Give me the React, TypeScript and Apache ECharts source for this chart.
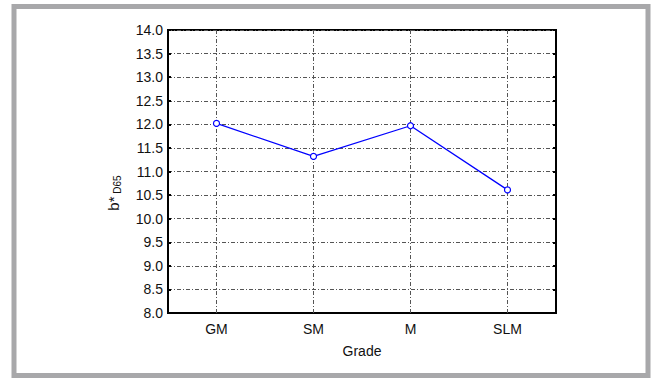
import React, { useEffect, useRef } from "react";
import * as echarts from "echarts";

const categories = ["GM", "SM", "M", "SLM"];
const values = [12.02, 11.32, 11.97, 10.61];
const yMin = 8;
const yMax = 14;
const yStep = 0.5;

const gridLine = { color: "#555", width: 1, type: [4, 2, 1, 2] as number[] };
const font = "Liberation Sans, Arial, sans-serif";

export default function App() {
  const ref = useRef<HTMLDivElement>(null);
  useEffect(() => {
    if (!ref.current) return;
    const chart = echarts.init(ref.current, null, { renderer: "svg" });
    const yAxisBase = {
      type: "value" as const,
      min: yMin,
      max: yMax,
      interval: yStep,
      splitLine: { show: false },
      axisLine: { show: true, lineStyle: { color: "#000", width: 2 } },
      axisTick: { show: true, inside: true, length: 3, lineStyle: { color: "#000", width: 2 } },
    };
    chart.setOption({
      animation: false,
      backgroundColor: "#fff",
      grid: {
        left: 168,
        top: 30,
        right: 97,
        bottom: 65,
        show: true,
        borderColor: "#000",
        borderWidth: 2,
        backgroundColor: "transparent",
      },
      xAxis: {
        type: "category",
        data: categories,
        boundaryGap: true,
        name: "Grade",
        nameLocation: "middle",
        nameGap: 31,
        nameTextStyle: { fontFamily: font, fontSize: 14, color: "#111" },
        axisLine: { show: true, lineStyle: { color: "#000", width: 2 } },
        axisTick: { show: false },
        axisLabel: { fontFamily: font, fontSize: 14, color: "#111", margin: 9 },
        splitLine: { show: false },
      },
      yAxis: [
        {
          ...yAxisBase,
          position: "left",
          axisLabel: {
            fontFamily: font,
            fontSize: 14,
            color: "#111",
            margin: 5,
            formatter: (v: number) => v.toFixed(1),
          },
          splitLine: { show: true, lineStyle: gridLine },
        },
        {
          ...yAxisBase,
          position: "right",
          axisLabel: { show: false },
        },
      ],
      graphic: [
        {
          type: "rect",
          shape: { x: 14, y: 6.5, width: 634, height: 369 },
          style: { fill: "none", stroke: "#a8a8aa", lineWidth: 5 },
          silent: true,
        },
        {
          type: "text",
          x: 121,
          y: 193,
          rotation: Math.PI / 2,
          style: {
            text: "{b|b*}{s| D65}",
            align: "center",
            verticalAlign: "bottom",
            rich: {
              b: { fontFamily: font, fontSize: 15, fill: "#111" },
              s: { fontFamily: font, fontSize: 10, fill: "#111", padding: [0, 0, -8, 0] },
            },
          },
        },
      ],
      series: [
        {
          type: "line",
          data: values,
          yAxisIndex: 0,
          symbol: "circle",
          symbolSize: 6,
          itemStyle: { color: "#fff", borderColor: "#0000ff", borderWidth: 1.2 },
          lineStyle: { color: "#0000ff", width: 1.3 },
          z: 5,
          markLine: {
            silent: true,
            symbol: "none",
            label: { show: false },
            lineStyle: gridLine,
            data: categories.map((c) => ({ xAxis: c })),
            z: 1,
          },
        },
      ],
    });
    return () => chart.dispose();
  }, []);
  return (
    <div
      ref={ref}
      style={{ position: "fixed", left: 0, top: 0, width: 653, height: 378 }}
    />
  );
}
